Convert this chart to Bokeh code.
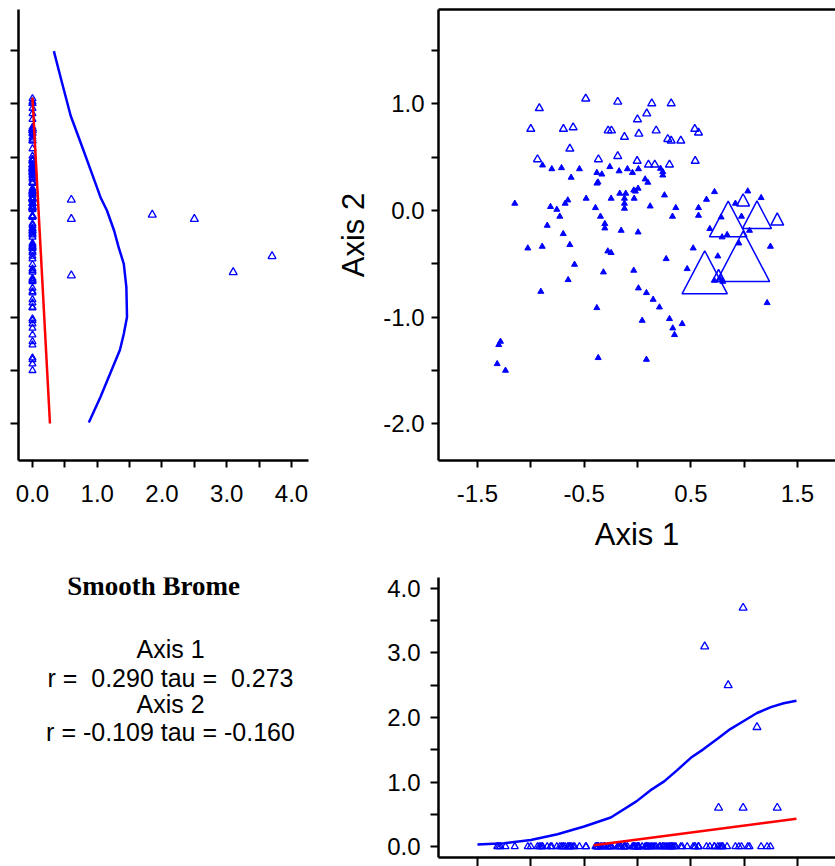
import numpy as np
from bokeh.plotting import figure
from bokeh.layouts import column, row
from bokeh.models import Range1d, FixedTicker, Label, PrintfTickFormatter, LinearAxis
from bokeh.embed import file_html
from bokeh.resources import INLINE

# ---------------- data ----------------
# sites with zero abundance, upper group (open symbols)
upper_ax1 = [-0.485, -0.185, -0.92, 0.0, -1.0, -0.694, -0.603, -0.275, -0.244, -0.122,
             0.013, -0.634, -0.185, -0.937, -0.366, -0.003, 0.134, 0.316, 0.087, 0.175,
             0.284, 0.316, 0.406, 0.537, 0.572, 0.541, 0.103, 0.162, 0.30]
upper_ax2 = [1.05, 1.02, 0.96, 0.855, 0.765, 0.765, 0.78, 0.75, 0.75, 0.69,
             0.72, 0.58, 0.51, 0.48, 0.48, 0.465, 1.005, 1.005, 0.91, 0.75,
             0.67, 0.655, 0.655, 0.765, 0.73, 0.465, 0.43, 0.43, 0.43]
# sites with zero abundance, lower group
lower_ax1 = [-0.89, -0.803, -0.712, -0.544, -0.622, -0.381, -0.334, -0.259, -0.172, -0.094,
             -0.047, 0.009, -0.37, -0.38, -0.166, -0.11, -0.035, -0.02, 0.006, -0.031,
             -0.122, -0.122, -0.122, -0.247, -0.481, -0.653, -0.678, -1.15, -0.815, -0.756,
             -0.394, -0.728, -0.347,
             0.216, 0.237, 0.237, 0.072, 0.097, 0.253, 0.119, 0.359, 0.572, 0.647,
             0.722, 1.034, 1.159, 0.918,
             -0.846, -0.696, -0.306, -0.306, -0.153, 0.006, -1.028, -0.893, -0.634, -0.278,
             -0.247, -0.59, -0.319, -0.035, -0.65, -0.906, 0.009, -0.381, 0.044, -1.284,
             -1.3, -1.315, -1.237, -0.368,
             0.328, 0.572, 0.784, 0.975, 0.678, 0.793, 0.84, 1.05, 0.95, 1.246,
             0.522, 0.753, 0.269, 0.466, 0.771, 0.72, 0.80, 0.084, 0.147, 0.206,
             0.30, 0.419, 0.331, 0.347, 1.215, 0.084]
lower_ax2 = [0.425, 0.39, 0.40, 0.39, 0.31, 0.355, 0.34, 0.41, 0.37, 0.39,
             0.355, 0.39, 0.265, 0.255, 0.16, 0.16, 0.19, 0.18, 0.207, 0.113,
             0.113, 0.066, 0.019, 0.113, 0.113, 0.097, 0.066, 0.066, 0.035, 0.009,
             0.025, -0.056, -0.056,
             0.394, 0.363, 0.331, 0.294, 0.263, 0.144, 0.04, 0.025, 0.025, 0.103,
             0.175, 0.181, 0.119, 0.066,
             -0.141, -0.219, -0.125, -0.166, -0.188, -0.204, -0.354, -0.338, -0.322, -0.382,
             -0.397, -0.507, -0.579, -0.563, -0.651, -0.761, -0.729, -0.914, -1.033, -1.23,
             -1.261, -1.44, -1.502, -1.383,
             -0.056, -0.047, -0.063, -0.056, -0.172, -0.25, -0.228, -0.188, -0.307, -0.338,
             -0.354, -0.429, -0.454, -0.548, -0.636, -0.657, -0.667, -0.773, -0.836, -0.908,
             -1.017, -1.064, -1.105, -1.167, -0.867, -1.399]
# sites where the species occurs
abund_ax1 = [0.63, 0.99, 0.85, 1.12, 0.76, 0.99, 1.31]
abund_ax2 = [-0.58, -0.43, -0.08, -0.04, -0.61, 0.10, -0.08]
abund_val = [3.1, 3.7, 2.5, 1.85, 0.6, 0.6, 0.6]

# fitted curves, abundance vs Axis 2 (left panel)
ax2_curve_y = [1.496, 1.19, 0.89, 0.594, 0.344, 0.125, 0.0, -0.188, -0.344, -0.5,
               -0.72, -1.0, -1.16, -1.31, -1.53, -1.75, -1.99]
ax2_curve_x = [0.33, 0.46, 0.59, 0.77, 0.92, 1.05, 1.15, 1.26, 1.33, 1.41,
               1.45, 1.46, 1.41, 1.35, 1.2, 1.05, 0.87]
ax2_line_y = [1.06, -2.0]
ax2_line_x = [0.0, 0.27]
# fitted curves, abundance vs Axis 1 (bottom panel)
ax1_curve_x = [-1.5, -1.25, -1.0, -0.75, -0.5, -0.25, -0.01, 0.12, 0.25, 0.37,
               0.5, 0.62, 0.75, 0.87, 1.0, 1.12, 1.25, 1.37, 1.49]
ax1_curve_y = [0.03, 0.05, 0.10, 0.19, 0.31, 0.45, 0.70, 0.87, 1.01, 1.18,
               1.375, 1.51, 1.67, 1.82, 1.95, 2.07, 2.16, 2.22, 2.26]
ax1_line_x = [-0.41, 1.49]
ax1_line_y = [0.02, 0.43]

species = "Smooth Brome"
stats_lines = ["Axis 1", "r = \u00a00.290 tau = \u00a00.273", "Axis 2", "r = -0.109 tau = -0.160"]

ax1_major = [-1.5, -0.5, 0.5, 1.5]
ax1_minor = [-1.0, 0.0, 1.0]
ax2_major = [-2.0, -1.0, 0.0, 1.0]
ax2_minor = [-1.5, -0.5, 0.5, 1.5]
ab_major = [0.0, 1.0, 2.0, 3.0, 4.0]
ab_minor = [0.5, 1.5, 2.5, 3.5]

# ---------------- style helpers ----------------
FONT = "Liberation Sans"
BLUE = "#0000ff"
RED = "#ff0000"


def style_axis(ax, major, minor, tick_len, standoff=11):
    ax.ticker = FixedTicker(ticks=major, minor_ticks=minor)
    ax.formatter = PrintfTickFormatter(format="%.1f")
    ax.axis_line_width = 2.5
    ax.axis_line_color = "black"
    ax.major_tick_line_width = 2
    ax.minor_tick_line_width = 2
    ax.major_tick_line_color = "black"
    ax.minor_tick_line_color = "black"
    ax.major_tick_out = tick_len
    ax.major_tick_in = 0
    ax.minor_tick_out = tick_len
    ax.minor_tick_in = 0
    ax.major_label_text_font = FONT
    ax.major_label_text_font_size = "24px"
    ax.major_label_text_color = "black"
    ax.major_label_standoff = standoff
    ax.axis_label_text_font = FONT
    ax.axis_label_text_font_size = "31px"
    ax.axis_label_text_font_style = "normal"
    ax.axis_label_text_color = "black"


ax1_all = upper_ax1 + lower_ax1
ax2_all = upper_ax2 + lower_ax2
zeros = [0.0] * len(ax1_all)

y_shared = Range1d(-2.347, 1.887)
x_shared = Range1d(-1.865, 1.856)

MAIN_FW, MAIN_FH = 397, 451   # frame size of the ordination panel, px

# ---------------- left panel: abundance vs Axis 2 ----------------
p_left = figure(width=330, height=568, x_range=Range1d(-0.216, 4.263), y_range=y_shared,
                output_backend="svg", toolbar_location=None,
                min_border_left=18, min_border_right=22, min_border_top=9, min_border_bottom=108)
p_left.grid.visible = False
p_left.outline_line_color = None
style_axis(p_left.xaxis[0], ab_major, ab_minor, 7, standoff=17)
style_axis(p_left.yaxis[0], [], ax2_major + ax2_minor, 8, standoff=0)
p_left.scatter(zeros, ax2_all, marker="triangle", size=7, line_color=BLUE,
               fill_color=None, line_width=1.3)
p_left.scatter(abund_val, abund_ax2, marker="triangle", size=8, line_color=BLUE,
               fill_color=None, line_width=1.3)
p_left.line(ax2_curve_x, ax2_curve_y, line_color=BLUE, line_width=2.5)
p_left.line(ax2_line_x, ax2_line_y, line_color=RED, line_width=2.5)

# ---------------- main panel: ordination ----------------
p_main = figure(width=505, height=568, x_range=x_shared, y_range=y_shared,
                output_backend="svg", toolbar_location=None,
                min_border_left=108, min_border_right=0, min_border_top=9, min_border_bottom=108)
p_main.grid.visible = False
p_main.outline_line_color = None
style_axis(p_main.xaxis[0], ax1_major, ax1_minor, 7, standoff=17)
style_axis(p_main.yaxis[0], ax2_major, ax2_minor, 7, standoff=7)
p_main.xaxis[0].axis_label = "Axis 1"
p_main.yaxis[0].axis_label = "Axis 2"
p_main.xaxis[0].axis_label_standoff = 12
p_main.yaxis[0].axis_label_standoff = 9
top_axis = LinearAxis(ticker=FixedTicker(ticks=[], minor_ticks=[]), axis_line_width=2.5,
                      axis_line_color="black", major_label_standoff=0)
p_main.add_layout(top_axis, "above")

p_main.scatter(upper_ax1, upper_ax2, marker="triangle", size=8, line_color=BLUE,
               fill_color=None, line_width=1.4)
p_main.scatter(lower_ax1, lower_ax2, marker="triangle", size=6, line_color=BLUE,
               fill_color=BLUE, line_width=1.0)

# triangles sized by abundance (screen px), centred on the site's scores
px_x = MAIN_FW / (x_shared.end - x_shared.start)
px_y = MAIN_FH / (y_shared.end - y_shared.start)
tri_xs, tri_ys = [], []
for xv, yv, av in zip(abund_ax1, abund_ax2, abund_val):
    w = (5 + 13 * av) / px_x
    h = 0.95 * (5 + 13 * av) / px_y
    tri_xs.append([xv - w / 2, xv + w / 2, xv])
    tri_ys.append([yv - h / 2, yv - h / 2, yv + h / 2])
p_main.patches(tri_xs, tri_ys, fill_color=None, line_color=BLUE, line_width=1.5)

# ---------------- text panel ----------------
p_text = figure(width=330, height=298, x_range=Range1d(0, 1), y_range=Range1d(0, 1),
                output_backend="svg", toolbar_location=None,
                x_axis_location=None, y_axis_location=None,
                min_border_left=0, min_border_right=0, min_border_top=0, min_border_bottom=0)
p_text.grid.visible = False
p_text.outline_line_color = None
p_text.add_layout(Label(x=153, y=272, x_units="screen", y_units="screen", text=species,
                        text_align="center", text_baseline="alphabetic",
                        text_font="Liberation Serif", text_font_style="bold",
                        text_font_size="27px", text_color="black"))
for txt, yy in zip(stats_lines, [209, 180, 154, 126]):
    p_text.add_layout(Label(x=170, y=yy, x_units="screen", y_units="screen", text=txt,
                            text_align="center", text_baseline="alphabetic",
                            text_font=FONT, text_font_size="25px", text_color="black"))

# ---------------- bottom panel: abundance vs Axis 1 ----------------
p_bot = figure(width=505, height=298, x_range=x_shared, y_range=Range1d(-0.17, 4.17),
               output_backend="svg", toolbar_location=None,
               min_border_left=108, min_border_right=0, min_border_top=9, min_border_bottom=9)
p_bot.grid.visible = False
p_bot.outline_line_color = None
style_axis(p_bot.xaxis[0], [], ax1_major + ax1_minor, 9, standoff=0)
style_axis(p_bot.yaxis[0], ab_major, ab_minor, 8, standoff=10)
p_bot.scatter(ax1_all, zeros, marker="triangle", size=7, line_color=BLUE,
              fill_color=None, line_width=1.3)
p_bot.scatter(abund_ax1, abund_val, marker="triangle", size=8, line_color=BLUE,
              fill_color=None, line_width=1.3)
p_bot.line(ax1_curve_x, ax1_curve_y, line_color=BLUE, line_width=2.5)
p_bot.line(ax1_line_x, ax1_line_y, line_color=RED, line_width=2.5)

layout = column(row(p_left, p_main), row(p_text, p_bot))
open("out.html", "w").write(file_html(layout, INLINE))
